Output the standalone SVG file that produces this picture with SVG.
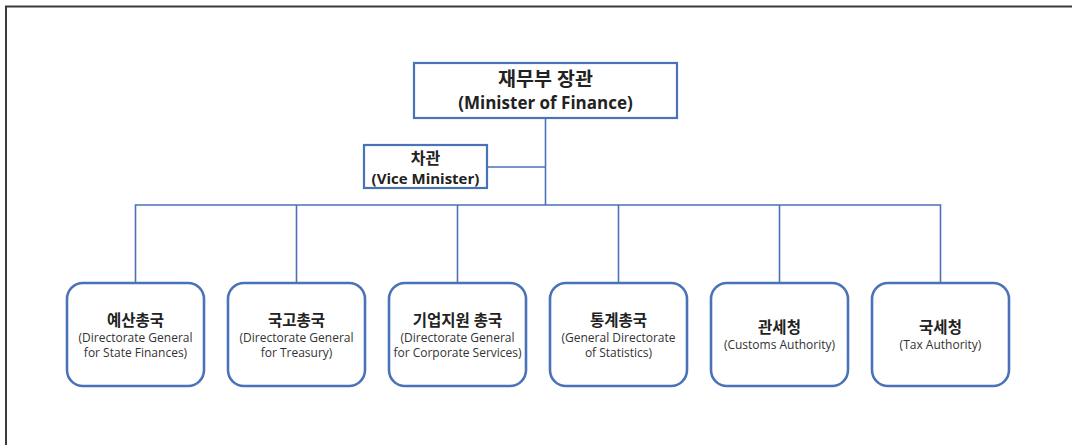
<svg xmlns="http://www.w3.org/2000/svg" width="1072" height="445" viewBox="0 0 1072 445">
<style>
.frame{fill:none;stroke:#3a3a3a;stroke-width:2}
.top{fill:#fff;stroke:#4a72b8;stroke-width:2.2}
.unit{fill:#fff;stroke:#4a72b8;stroke-width:2.6}
.conn{fill:none;stroke:#4a72b8;stroke-width:1.6}
text{font-family:"Open Sans","Noto Sans CJK KR",sans-serif;fill:#222;text-anchor:middle}
.tk{font-weight:bold;font-size:19.5px}
.tb{font-weight:bold;font-size:17px}
.vk{font-weight:bold;font-size:16px}
.vb{font-weight:bold;font-size:15px}
.ut{font-weight:bold;font-size:15.5px}
.us{font-size:12px;fill:#333}
</style>
<rect width="1072" height="445" fill="#fff"/>
<path class="frame" d="M6,445 V6.5 H1072"/>
<g id="connectors">
<path class="conn" d="M545.5,118 V205"/>
<path class="conn" d="M487,167 H545.5"/>
<path class="conn" d="M135.5,283 V205 H940.5 V283"/>
<path class="conn" d="M296.5,205 V283"/>
<path class="conn" d="M457.5,205 V283"/>
<path class="conn" d="M618.5,205 V283"/>
<path class="conn" d="M779.5,205 V283"/>
</g>
<g id="minister">
<rect class="top" x="414" y="63" width="263" height="55"/>
<text class="tk" x="545.5" y="86">재무부 장관</text>
<text class="tb" x="545.5" y="109">(Minister of Finance)</text>
</g>
<g id="vice">
<rect class="top" x="364" y="145" width="123" height="43"/>
<text class="vk" x="425.5" y="164">차관</text>
<text class="vb" x="425.5" y="184">(Vice Minister)</text>
</g>
<g id="budget">
<rect class="unit" x="67" y="283" width="137" height="103" rx="16"/>
<text class="ut" x="135.5" y="326">예산총국</text>
<text class="us" x="135.5" y="342">(Directorate General</text>
<text class="us" x="135.5" y="357">for State Finances)</text>
</g>
<g id="treasury">
<rect class="unit" x="228" y="283" width="137" height="103" rx="16"/>
<text class="ut" x="296.5" y="326">국고총국</text>
<text class="us" x="296.5" y="342">(Directorate General</text>
<text class="us" x="296.5" y="357">for Treasury)</text>
</g>
<g id="corporate">
<rect class="unit" x="389" y="283" width="137" height="103" rx="16"/>
<text class="ut" x="457.5" y="326">기업지원 총국</text>
<text class="us" x="457.5" y="342">(Directorate General</text>
<text class="us" x="457.5" y="357">for Corporate Services)</text>
</g>
<g id="statistics">
<rect class="unit" x="550" y="283" width="137" height="103" rx="16"/>
<text class="ut" x="618.5" y="326">통계총국</text>
<text class="us" x="618.5" y="342">(General Directorate</text>
<text class="us" x="618.5" y="357">of Statistics)</text>
</g>
<g id="customs">
<rect class="unit" x="711" y="283" width="137" height="103" rx="16"/>
<text class="ut" x="779.5" y="333">관세청</text>
<text class="us" x="779.5" y="349">(Customs Authority)</text>
</g>
<g id="tax">
<rect class="unit" x="872" y="283" width="137" height="103" rx="16"/>
<text class="ut" x="940.5" y="333">국세청</text>
<text class="us" x="940.5" y="349">(Tax Authority)</text>
</g>
</svg>
